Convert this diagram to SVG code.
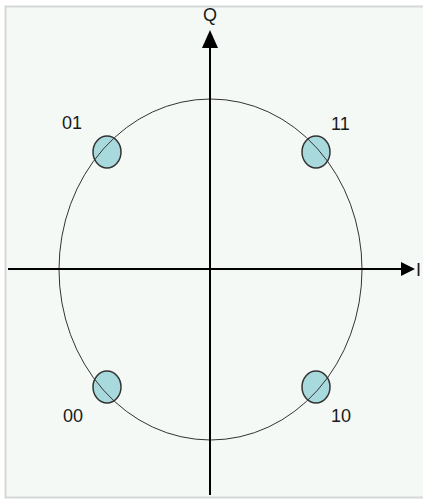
<svg xmlns="http://www.w3.org/2000/svg" width="423" height="500" viewBox="0 0 423 500">
<style>
.axis{stroke:#000;stroke-width:2;fill:none}
.head{fill:#000}
.pt{fill:#a8dadd;stroke:#333;stroke-width:1.5}
.lbl{font-family:"Liberation Sans",Arial,sans-serif;font-size:18px;fill:#1a1a1a}
</style>
<rect x="5.5" y="6.5" width="420" height="491" fill="#f5f9f6" stroke="#d4d8d6" stroke-width="2"/>
<g id="p01"><ellipse class="pt" cx="107" cy="152" rx="14" ry="16"/><text class="lbl" x="62" y="129">01</text></g>
<g id="p11"><ellipse class="pt" cx="316" cy="152" rx="14" ry="16"/><text class="lbl" x="331" y="130">11</text></g>
<g id="p00"><ellipse class="pt" cx="107" cy="387" rx="14" ry="16"/><text class="lbl" x="63" y="422">00</text></g>
<g id="p10"><ellipse class="pt" cx="316" cy="387" rx="14" ry="16"/><text class="lbl" x="331" y="422">10</text></g>
<g id="connectors">
<ellipse cx="210.5" cy="269.5" rx="151.5" ry="170.5" fill="none" stroke="#333" stroke-width="1"/>
<line class="axis" x1="210" y1="495" x2="210" y2="46"/>
<path class="head" d="M210,30 L202,48 L218,48 Z"/>
<line class="axis" x1="8" y1="269" x2="402" y2="269"/>
<path class="head" d="M415,269 L401,262 L401,276 Z"/>
</g>
<text class="lbl" x="203" y="21">Q</text>
<text class="lbl" x="416" y="276">I</text>
</svg>
